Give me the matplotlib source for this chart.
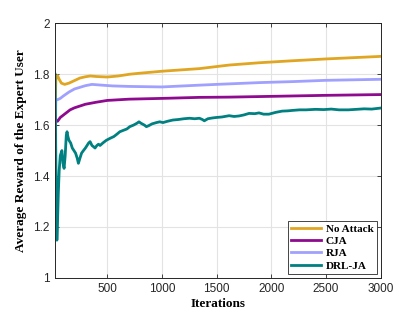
import matplotlib
matplotlib.use("Agg")
import matplotlib.pyplot as plt

# ---- data ----
x_noattack = [22, 30, 45, 60, 80, 110, 150, 200, 250, 300, 345, 400, 500, 600, 706, 800, 1010, 1343, 1615, 1890, 2200, 2500, 2800, 3000]
y_noattack = [1.667, 1.78, 1.795, 1.78, 1.765, 1.760, 1.765, 1.775, 1.785, 1.790, 1.793, 1.791, 1.789, 1.793, 1.800, 1.804, 1.812, 1.822, 1.836, 1.845, 1.853, 1.860, 1.866, 1.870]

x_cja = [22, 30, 45, 70, 100, 160, 200, 300, 400, 500, 700, 1000, 1343, 1615, 2000, 2500, 3000]
y_cja = [1.645, 1.618, 1.615, 1.63, 1.64, 1.66, 1.668, 1.682, 1.690, 1.697, 1.702, 1.705, 1.709, 1.710, 1.713, 1.717, 1.720]

x_rja = [22, 30, 45, 70, 100, 150, 200, 300, 360, 450, 550, 700, 1000, 1343, 1500, 1890, 2200, 2500, 3000]
y_rja = [1.58, 1.70, 1.70, 1.705, 1.715, 1.730, 1.742, 1.755, 1.760, 1.757, 1.754, 1.752, 1.750, 1.757, 1.760, 1.767, 1.771, 1.776, 1.780]

x_drl = [22, 30, 39, 45, 52, 60, 70, 85, 95, 105, 115, 125, 132, 140, 150, 165, 180, 195, 210, 225, 236, 250,
         265, 282, 300, 315, 330, 343, 360, 375, 388, 405, 420, 434, 460, 490, 525, 560, 590, 615, 650, 680,
         706, 740, 770, 790, 810, 840, 858, 880, 910, 950, 980, 1010, 1050, 1100, 1150, 1200, 1252, 1300, 1343,
         1370, 1388, 1420, 1460, 1497, 1550, 1615, 1660, 1706, 1750, 1797, 1850, 1888, 1930, 1979, 2040, 2100,
         2150, 2200, 2260, 2320, 2406, 2480, 2550, 2620, 2706, 2780, 2850, 2920, 2980, 3000]
y_drl = [1.80, 1.45, 1.148, 1.22, 1.33, 1.42, 1.48, 1.50, 1.45, 1.43, 1.48, 1.56, 1.574, 1.555, 1.54, 1.53,
         1.51, 1.50, 1.49, 1.47, 1.45, 1.47, 1.49, 1.50, 1.51, 1.52, 1.53, 1.535, 1.52, 1.515, 1.51, 1.52,
         1.525, 1.52, 1.53, 1.54, 1.548, 1.555, 1.565, 1.574, 1.58, 1.585, 1.594, 1.60, 1.607, 1.613, 1.607,
         1.60, 1.594, 1.598, 1.605, 1.61, 1.613, 1.61, 1.615, 1.62, 1.622, 1.625, 1.627, 1.625, 1.627, 1.622,
         1.617, 1.625, 1.628, 1.63, 1.632, 1.637, 1.634, 1.636, 1.64, 1.646, 1.645, 1.648, 1.643, 1.643, 1.65,
         1.655, 1.656, 1.658, 1.66, 1.66, 1.662, 1.661, 1.663, 1.66, 1.66, 1.662, 1.664, 1.663, 1.666, 1.667]

labels = ["No Attack", "CJA", "RJA", "DRL-JA"]
colors = ["#E0A521", "#8E0A8E", "#A0A0FF", "#008080"]

xticks = [500, 1000, 1500, 2000, 2500, 3000]
yticks = [1, 1.2, 1.4, 1.6, 1.8, 2]

fig = plt.figure(figsize=(4.2, 3.15), dpi=100)
ax = fig.add_axes([0.131, 0.118, 0.775, 0.808])

for xs, ys, lab, c in zip([x_noattack, x_cja, x_rja, x_drl],
                          [y_noattack, y_cja, y_rja, y_drl], labels, colors):
    ax.plot(xs, ys, color=c, lw=2.0, label=lab)

ax.set_xlim(22, 3000)
ax.set_ylim(1, 2)
ax.set_xticks(xticks)
ax.set_yticks(yticks)
ax.set_yticklabels(["1", "1.2", "1.4", "1.6", "1.8", "2"])
ax.tick_params(direction="in", top=True, right=True, length=3, width=0.6,
               labelsize=8.5, colors="#262626", pad=4)
for lbl in ax.get_xticklabels() + ax.get_yticklabels():
    lbl.set_family("Liberation Sans")
ax.grid(True, color="#E3E3E3", lw=0.8)
ax.set_axisbelow(True)
for s in ax.spines.values():
    s.set_color("#262626")
    s.set_linewidth(0.7)

ax.set_xlabel("Iterations", family="Liberation Serif", fontweight="bold", fontsize=9.5, labelpad=2)
ax.set_ylabel("Average Reward of the Expert User", family="Liberation Serif", fontweight="bold",
              fontsize=9.5, labelpad=4)

leg = ax.legend(loc="lower right", prop={"family": "Liberation Serif", "weight": "bold", "size": 8},
                handlelength=2.7, handletextpad=0.4, labelspacing=0.22, borderpad=0.3,
                borderaxespad=0.35, fancybox=False, framealpha=1)
leg.get_frame().set_edgecolor("#262626")
leg.get_frame().set_linewidth(0.6)

fig.savefig("out.png", dpi=100)
